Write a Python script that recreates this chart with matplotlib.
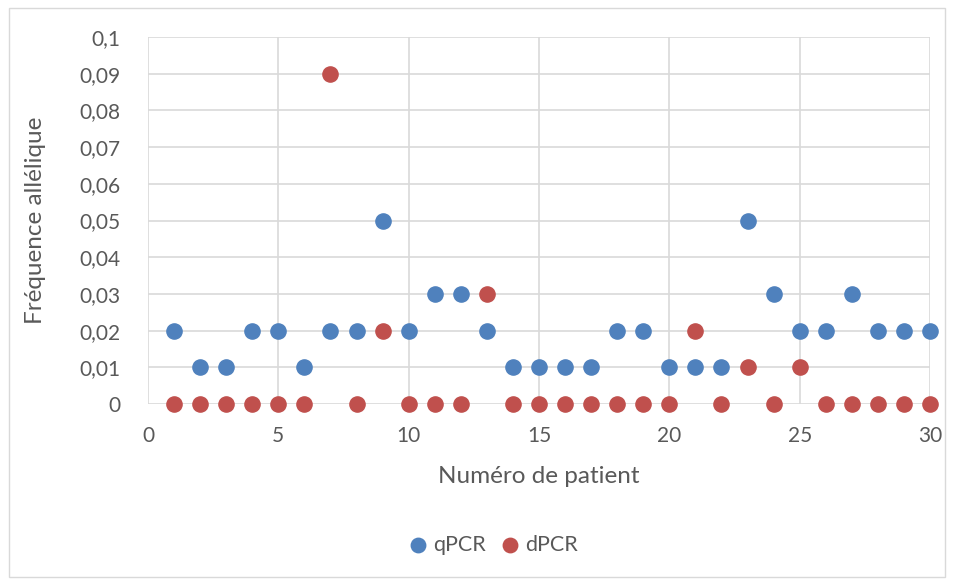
import numpy as np
import matplotlib.pyplot as plt
from matplotlib.patches import Rectangle
from matplotlib.ticker import FuncFormatter

plt.rcParams['font.family'] = ['Lato', 'DejaVu Sans']

patients = np.arange(1, 31)
qpcr = [0.02, 0.01, 0.01, 0.02, 0.02, 0.01, 0.02, 0.02, 0.05, 0.02,
        0.03, 0.03, 0.02, 0.01, 0.01, 0.01, 0.01, 0.02, 0.02, 0.01,
        0.01, 0.01, 0.05, 0.03, 0.02, 0.02, 0.03, 0.02, 0.02, 0.02]
dpcr = [0, 0, 0, 0, 0, 0, 0.09, 0, 0.02, 0,
        0, 0, 0.03, 0, 0, 0, 0, 0, 0, 0,
        0.02, 0, 0.01, 0, 0.01, 0, 0, 0, 0, 0]

blue = '#4f81bd'
red = '#c0504d'
txt = '#595959'
grid = '#d9d9d9'

fig = plt.figure(figsize=(9.55, 5.79), dpi=100)
ax = fig.add_axes([148/955, 175/579, 782/955, 367/579])

# outer chart border
fig.patches.append(Rectangle((9/955, 2/579), 936/955, 569/579, transform=fig.transFigure,
                             fill=False, edgecolor=grid, linewidth=1))

ax.scatter(patients, qpcr, s=120, color=blue, zorder=3, label='qPCR', clip_on=False)
ax.scatter(patients, dpcr, s=120, color=red, zorder=4, label='dPCR', clip_on=False)

ax.set_xlim(0, 30)
ax.set_ylim(0, 0.1)
ax.set_xticks(range(0, 31, 5))
ax.set_yticks(np.arange(0, 0.1001, 0.01))
ax.yaxis.set_major_formatter(FuncFormatter(lambda v, p: ('%g' % round(v, 2)).replace('.', ',')))
ax.grid(True, color=grid, linewidth=1.2)
ax.set_axisbelow(True)
for s in ax.spines.values():
    s.set_visible(False)
ax.tick_params(length=0, labelsize=15, colors=txt)
ax.tick_params(axis='x', pad=16)
ax.tick_params(axis='y', pad=20)

ax.set_xlabel('Numéro de patient', fontsize=17.5, color=txt, labelpad=14)
ax.set_ylabel('Fréquence allélique', fontsize=17.5, color=txt, labelpad=24)

fig.legend(loc='center', bbox_to_anchor=(0.5 + 16/955, 34/579), ncol=2, frameon=False,
           fontsize=15.5, labelcolor=txt, handlelength=0.8, handletextpad=0.3,
           columnspacing=0.7, markerscale=0.95)

fig.savefig('out.png', dpi=100)
